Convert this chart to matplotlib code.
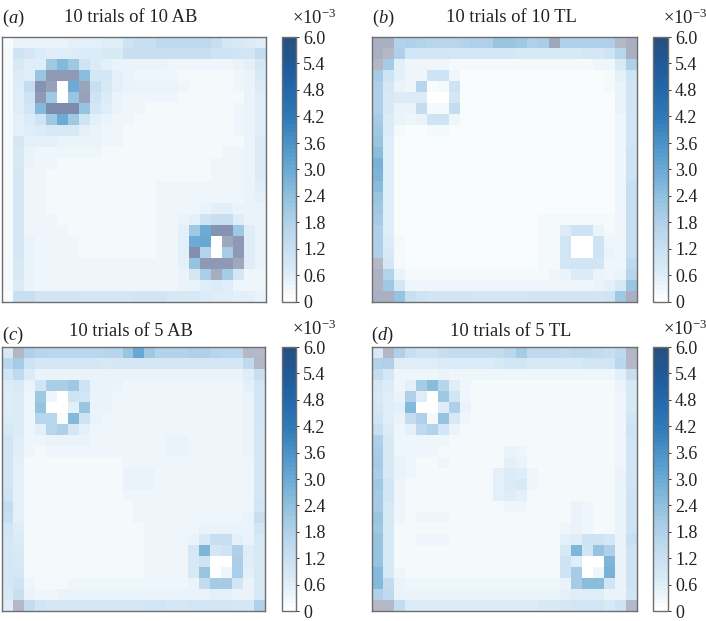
import matplotlib
matplotlib.use("Agg")
import matplotlib.pyplot as plt
from matplotlib.colors import LinearSegmentedColormap, ListedColormap, Normalize
from matplotlib.cm import ScalarMappable
import numpy as np

plt.rcParams["font.family"] = ["Liberation Serif", "DejaVu Serif"]
plt.rcParams["mathtext.fontset"] = "custom"
plt.rcParams["mathtext.rm"] = "Liberation Serif"
plt.rcParams["mathtext.it"] = "Liberation Serif:italic"

# cell values in units of 1e-4, anything above 60 is off the colour scale (greyish cells)
grid_a = [
    [1, 4, 4, 4, 4, 4, 5, 5, 5, 6, 6, 11, 12, 12, 14, 14, 14, 14, 14, 12, 9, 8, 7, 6],
    [2, 11, 9, 7, 6, 6, 6, 7, 7, 8, 8, 12, 12, 12, 12, 12, 12, 12, 12, 11, 11, 10, 10, 13],
    [2, 8, 6, 6, 21, 25, 21, 11, 7, 5, 4, 4, 4, 4, 4, 3, 3, 3, 3, 3, 3, 4, 5, 9],
    [2, 7, 6, 22, 85, 85, 85, 24, 9, 9, 5, 4, 3, 3, 3, 3, 2, 2, 2, 2, 2, 3, 4, 8],
    [2, 6, 13, 90, 80, 0, 29, 78, 12, 8, 5, 4, 4, 4, 4, 4, 3, 2, 2, 2, 2, 3, 4, 7],
    [2, 6, 11, 85, 21, 0, 22, 80, 11, 7, 4, 3, 3, 3, 3, 3, 2, 2, 2, 2, 2, 2, 4, 6],
    [2, 6, 10, 25, 95, 95, 95, 23, 9, 6, 4, 3, 3, 2, 2, 2, 2, 2, 2, 2, 2, 3, 4, 6],
    [2, 5, 7, 11, 21, 29, 21, 11, 5, 4, 3, 3, 2, 2, 2, 2, 2, 2, 2, 2, 2, 3, 4, 6],
    [2, 5, 6, 7, 8, 8, 8, 5, 4, 3, 3, 2, 2, 2, 2, 2, 2, 2, 2, 2, 2, 3, 4, 6],
    [2, 9, 5, 5, 5, 4, 4, 4, 4, 3, 3, 2, 2, 2, 2, 2, 2, 2, 2, 2, 2, 2, 4, 7],
    [2, 8, 4, 3, 3, 3, 3, 3, 3, 2, 2, 2, 2, 2, 2, 2, 2, 2, 2, 2, 3, 3, 4, 7],
    [2, 8, 4, 3, 3, 2, 2, 2, 2, 2, 2, 2, 2, 2, 2, 2, 2, 2, 2, 3, 3, 3, 4, 7],
    [2, 9, 3, 3, 2, 2, 2, 2, 2, 2, 2, 2, 2, 2, 2, 2, 2, 2, 2, 3, 3, 3, 4, 7],
    [2, 9, 3, 3, 2, 2, 2, 2, 2, 2, 2, 2, 2, 2, 3, 3, 3, 3, 3, 3, 3, 3, 4, 6],
    [2, 9, 3, 3, 2, 2, 2, 2, 2, 2, 2, 2, 2, 2, 3, 3, 3, 3, 3, 3, 3, 3, 4, 5],
    [2, 9, 3, 3, 2, 2, 2, 2, 2, 2, 2, 2, 2, 2, 3, 3, 3, 3, 4, 5, 5, 4, 4, 4],
    [2, 9, 3, 3, 3, 2, 2, 2, 2, 2, 2, 2, 2, 2, 3, 3, 4, 5, 11, 12, 12, 6, 4, 4],
    [2, 9, 3, 3, 3, 3, 2, 2, 2, 2, 2, 2, 2, 2, 3, 3, 5, 21, 29, 90, 90, 21, 6, 4],
    [2, 9, 4, 3, 3, 3, 3, 2, 2, 2, 2, 2, 2, 2, 3, 3, 5, 29, 30, 0, 76, 85, 6, 4],
    [2, 9, 4, 3, 3, 3, 3, 2, 2, 2, 2, 2, 2, 2, 3, 3, 5, 92, 17, 0, 20, 85, 6, 4],
    [2, 8, 4, 3, 3, 3, 3, 3, 3, 3, 3, 3, 3, 3, 3, 3, 5, 23, 85, 85, 85, 75, 6, 4],
    [2, 8, 4, 3, 3, 3, 3, 3, 3, 3, 3, 3, 3, 3, 3, 3, 4, 9, 19, 72, 20, 9, 3, 3],
    [2, 7, 4, 3, 3, 3, 3, 3, 3, 3, 3, 3, 3, 3, 3, 3, 4, 4, 6, 7, 6, 3, 3, 3],
    [1, 12, 12, 10, 10, 10, 10, 9, 9, 9, 9, 9, 10, 10, 10, 8, 8, 8, 7, 6, 6, 5, 5, 4],
]

grid_b = [
    [70, 70, 17, 18, 17, 16, 16, 16, 17, 18, 18, 22, 22, 21, 18, 19, 76, 18, 18, 18, 18, 18, 64, 70],
    [70, 65, 18, 10, 10, 10, 10, 9, 9, 9, 9, 9, 9, 8, 8, 8, 8, 8, 8, 9, 9, 11, 16, 70],
    [65, 20, 5, 3, 3, 3, 3, 2, 2, 2, 2, 2, 2, 2, 2, 2, 2, 2, 2, 2, 3, 3, 8, 18],
    [20, 11, 5, 3, 3, 11, 11, 3, 1, 1, 1, 1, 1, 1, 1, 1, 1, 1, 1, 1, 1, 2, 5, 11],
    [18, 9, 4, 3, 16, 1, 2, 11, 1, 1, 1, 1, 1, 1, 1, 1, 1, 1, 1, 1, 1, 2, 4, 10],
    [18, 8, 7, 7, 7, 0, 0, 9, 1, 1, 1, 1, 1, 1, 1, 1, 1, 1, 1, 1, 1, 1, 4, 10],
    [18, 8, 4, 4, 13, 2, 2, 13, 1, 1, 1, 1, 1, 1, 1, 1, 1, 1, 1, 1, 1, 1, 4, 10],
    [20, 7, 4, 3, 4, 11, 11, 3, 1, 1, 1, 1, 1, 1, 1, 1, 1, 1, 1, 1, 1, 1, 3, 10],
    [21, 7, 2, 1, 1, 2, 2, 1, 1, 1, 1, 1, 1, 1, 1, 1, 1, 1, 1, 1, 1, 1, 3, 10],
    [22, 6, 1, 1, 1, 1, 1, 1, 1, 1, 1, 1, 1, 1, 1, 1, 1, 1, 1, 1, 1, 1, 3, 10],
    [24, 6, 1, 1, 1, 1, 1, 1, 1, 1, 1, 1, 1, 1, 1, 1, 1, 1, 1, 1, 1, 1, 3, 11],
    [27, 6, 1, 1, 1, 1, 1, 1, 1, 1, 1, 1, 1, 1, 1, 1, 1, 1, 1, 1, 1, 1, 3, 11],
    [26, 6, 1, 1, 1, 1, 1, 1, 1, 1, 1, 1, 1, 1, 1, 1, 1, 1, 1, 1, 1, 1, 3, 11],
    [24, 6, 1, 1, 1, 1, 1, 1, 1, 1, 1, 1, 1, 1, 1, 1, 1, 1, 1, 1, 1, 1, 3, 12],
    [22, 6, 1, 1, 1, 1, 1, 1, 1, 1, 1, 1, 1, 1, 1, 1, 1, 1, 1, 1, 1, 1, 3, 12],
    [21, 6, 1, 1, 1, 1, 1, 1, 1, 1, 1, 1, 1, 1, 1, 1, 1, 1, 1, 1, 1, 1, 3, 12],
    [20, 6, 1, 1, 1, 1, 1, 1, 1, 1, 1, 1, 1, 1, 1, 2, 2, 2, 2, 2, 2, 2, 3, 12],
    [18, 6, 1, 1, 1, 1, 1, 1, 1, 1, 1, 1, 1, 1, 1, 2, 2, 7, 11, 11, 4, 2, 3, 12],
    [18, 7, 2, 1, 1, 1, 1, 1, 1, 1, 1, 1, 1, 1, 1, 2, 2, 10, 0, 0, 11, 3, 3, 12],
    [18, 8, 2, 1, 1, 1, 1, 1, 1, 1, 1, 1, 1, 1, 1, 2, 2, 10, 0, 0, 11, 4, 3, 12],
    [64, 9, 2, 1, 1, 1, 1, 1, 1, 1, 1, 1, 1, 1, 1, 2, 2, 10, 10, 10, 10, 3, 3, 14],
    [68, 17, 4, 2, 2, 2, 2, 2, 2, 2, 2, 2, 2, 2, 2, 2, 3, 4, 7, 7, 4, 3, 4, 16],
    [68, 21, 9, 3, 3, 3, 3, 3, 3, 3, 3, 3, 3, 3, 3, 3, 3, 3, 3, 3, 4, 5, 8, 22],
    [70, 70, 23, 12, 11, 10, 10, 10, 10, 9, 9, 9, 9, 9, 10, 10, 10, 10, 10, 10, 10, 11, 21, 70],
]

grid_c = [
    [8, 66, 18, 16, 15, 15, 15, 15, 15, 16, 16, 22, 30, 21, 17, 17, 17, 18, 18, 16, 15, 15, 64, 64],
    [15, 20, 11, 9, 9, 9, 9, 9, 9, 8, 9, 9, 9, 9, 9, 9, 9, 9, 9, 9, 9, 9, 14, 66],
    [10, 14, 7, 4, 4, 4, 4, 4, 4, 4, 4, 4, 4, 4, 4, 4, 4, 4, 4, 4, 4, 4, 6, 12],
    [7, 8, 4, 10, 19, 19, 21, 11, 4, 4, 4, 3, 3, 3, 3, 3, 3, 3, 3, 3, 3, 3, 5, 10],
    [6, 7, 3, 21, 3, 0, 11, 10, 4, 4, 3, 3, 3, 3, 3, 3, 3, 3, 3, 3, 3, 3, 4, 10],
    [6, 7, 3, 23, 0, 0, 5, 22, 4, 4, 3, 3, 3, 3, 3, 3, 3, 3, 3, 3, 3, 3, 4, 10],
    [7, 7, 3, 16, 16, 1, 25, 11, 4, 3, 3, 3, 3, 3, 3, 3, 3, 3, 3, 3, 3, 3, 4, 10],
    [8, 7, 3, 5, 16, 18, 9, 5, 3, 3, 3, 3, 3, 3, 3, 3, 3, 3, 3, 3, 3, 3, 4, 9],
    [10, 6, 3, 3, 4, 4, 4, 4, 3, 3, 3, 3, 3, 3, 3, 4, 4, 3, 3, 3, 3, 3, 4, 9],
    [10, 6, 3, 2, 3, 3, 3, 3, 3, 3, 3, 3, 3, 3, 3, 4, 4, 3, 3, 3, 3, 3, 4, 9],
    [10, 5, 2, 2, 2, 2, 2, 2, 2, 2, 2, 3, 3, 3, 3, 3, 3, 3, 3, 3, 3, 3, 3, 9],
    [10, 5, 2, 2, 2, 2, 2, 2, 2, 2, 2, 4, 4, 4, 3, 3, 3, 3, 3, 3, 3, 3, 3, 9],
    [10, 5, 2, 2, 2, 2, 2, 2, 2, 2, 2, 4, 4, 4, 3, 3, 3, 3, 3, 3, 3, 3, 3, 9],
    [11, 5, 2, 2, 2, 2, 2, 2, 2, 2, 2, 3, 3, 3, 3, 3, 3, 3, 3, 3, 3, 3, 3, 9],
    [13, 5, 2, 2, 2, 2, 2, 2, 2, 2, 2, 2, 3, 3, 3, 3, 3, 3, 3, 3, 3, 3, 3, 10],
    [12, 5, 2, 2, 2, 2, 2, 2, 2, 2, 2, 2, 3, 3, 3, 3, 3, 3, 3, 3, 3, 3, 4, 12],
    [10, 6, 2, 2, 2, 2, 2, 2, 2, 2, 2, 2, 2, 3, 3, 3, 3, 3, 4, 4, 4, 4, 4, 10],
    [9, 7, 2, 2, 2, 2, 2, 2, 2, 2, 2, 2, 2, 3, 3, 3, 3, 4, 8, 12, 12, 5, 4, 8],
    [9, 8, 2, 2, 2, 2, 2, 2, 2, 2, 2, 2, 2, 3, 3, 3, 3, 9, 26, 9, 11, 18, 6, 8],
    [9, 8, 2, 2, 2, 2, 2, 2, 2, 2, 2, 2, 2, 3, 3, 3, 3, 8, 11, 0, 0, 19, 6, 8],
    [9, 9, 2, 2, 2, 2, 2, 2, 2, 2, 2, 2, 2, 3, 3, 3, 3, 8, 22, 0, 3, 19, 5, 8],
    [9, 11, 3, 2, 2, 2, 3, 3, 3, 3, 3, 3, 3, 3, 3, 3, 3, 4, 13, 20, 20, 10, 4, 8],
    [8, 12, 4, 3, 3, 4, 4, 4, 4, 4, 4, 4, 4, 4, 4, 4, 4, 4, 4, 5, 5, 4, 4, 8],
    [6, 64, 13, 10, 9, 9, 9, 9, 9, 9, 9, 9, 9, 10, 10, 9, 9, 10, 10, 10, 10, 9, 9, 18],
]

grid_d = [
    [8, 66, 18, 12, 11, 11, 12, 13, 13, 13, 13, 13, 15, 20, 14, 14, 14, 13, 14, 14, 13, 12, 14, 66],
    [17, 18, 6, 6, 6, 6, 7, 7, 7, 7, 7, 8, 10, 10, 8, 8, 8, 8, 8, 10, 10, 10, 15, 64],
    [13, 9, 3, 3, 3, 3, 4, 3, 3, 3, 3, 3, 3, 3, 3, 3, 3, 3, 3, 3, 3, 3, 5, 12],
    [9, 7, 3, 5, 20, 24, 16, 6, 3, 2, 2, 2, 2, 2, 2, 2, 2, 2, 2, 2, 2, 2, 4, 8],
    [8, 6, 4, 18, 6, 0, 21, 10, 3, 2, 2, 2, 2, 2, 2, 2, 2, 2, 2, 2, 2, 2, 3, 8],
    [9, 6, 5, 25, 0, 0, 6, 18, 4, 2, 2, 2, 2, 2, 2, 2, 2, 2, 2, 2, 2, 2, 3, 8],
    [10, 6, 4, 13, 18, 2, 23, 8, 3, 2, 2, 2, 2, 2, 2, 2, 2, 2, 2, 2, 2, 2, 3, 10],
    [12, 7, 3, 5, 14, 17, 10, 4, 2, 2, 2, 2, 2, 2, 2, 2, 2, 2, 2, 2, 2, 2, 3, 11],
    [18, 8, 3, 3, 3, 3, 3, 2, 2, 2, 2, 2, 2, 2, 2, 2, 2, 2, 2, 2, 2, 2, 3, 10],
    [19, 8, 3, 3, 3, 3, 2, 2, 2, 2, 2, 2, 4, 3, 2, 2, 2, 2, 2, 2, 2, 2, 3, 10],
    [20, 8, 4, 3, 2, 2, 3, 2, 2, 2, 2, 2, 5, 4, 2, 2, 2, 2, 2, 2, 2, 2, 3, 10],
    [19, 8, 4, 3, 2, 2, 2, 2, 2, 2, 2, 5, 7, 6, 3, 2, 2, 2, 2, 2, 2, 2, 4, 10],
    [21, 10, 3, 2, 2, 2, 2, 2, 2, 2, 2, 5, 7, 8, 3, 2, 2, 2, 2, 2, 2, 2, 4, 10],
    [20, 10, 3, 2, 2, 2, 2, 2, 2, 2, 2, 5, 6, 5, 2, 2, 2, 2, 2, 2, 2, 2, 4, 11],
    [20, 8, 3, 2, 2, 2, 2, 2, 2, 2, 2, 2, 3, 3, 2, 2, 2, 2, 4, 3, 2, 2, 4, 11],
    [22, 8, 3, 2, 3, 3, 3, 2, 2, 2, 2, 2, 2, 2, 2, 2, 2, 2, 4, 3, 2, 2, 4, 11],
    [21, 8, 2, 2, 2, 2, 2, 2, 2, 2, 2, 2, 2, 2, 2, 2, 2, 3, 4, 3, 2, 2, 4, 11],
    [23, 8, 2, 2, 3, 3, 3, 2, 2, 2, 2, 2, 2, 2, 2, 2, 2, 5, 6, 11, 11, 9, 4, 12],
    [23, 8, 2, 2, 2, 2, 2, 2, 2, 2, 2, 2, 2, 2, 2, 2, 2, 8, 26, 10, 23, 18, 4, 11],
    [23, 8, 2, 2, 2, 2, 2, 2, 2, 2, 2, 2, 2, 2, 2, 2, 2, 11, 6, 0, 0, 26, 4, 11],
    [25, 8, 3, 2, 2, 2, 2, 2, 2, 2, 2, 2, 2, 2, 2, 2, 2, 11, 20, 0, 3, 27, 4, 11],
    [25, 13, 4, 3, 3, 3, 3, 3, 3, 3, 3, 3, 3, 3, 3, 3, 3, 4, 20, 24, 24, 10, 4, 11],
    [18, 14, 4, 4, 4, 4, 4, 4, 4, 4, 4, 4, 4, 4, 4, 4, 4, 5, 6, 6, 6, 4, 4, 10],
    [64, 64, 13, 7, 7, 7, 7, 7, 7, 7, 7, 7, 7, 7, 7, 8, 8, 9, 10, 10, 10, 8, 11, 64],
]

panel_letters = ["a", "b", "c", "d"]
panel_titles = ["10 trials of 10 AB", "10 trials of 10 TL", "10 trials of 5 AB", "10 trials of 5 TL"]
panel_grids = [grid_a, grid_b, grid_c, grid_d]
cbar_ticks = [0, 0.6, 1.2, 1.8, 2.4, 3.0, 3.6, 4.2, 4.8, 5.4, 6.0]
cbar_labels = ["0", "0.6", "1.2", "1.8", "2.4", "3.0", "3.6", "4.2", "4.8", "5.4", "6.0"]
scale_colours = ["#ffffff", "#deedf8", "#c9e0f2", "#b0d1e9", "#8fc0de", "#6aaad6",
                 "#4a93c9", "#2f7ab8", "#2269ad", "#1f5a9a", "#27507f"]

W, H = 706, 621
fig = plt.figure(figsize=(W / 100, H / 100), dpi=100)


def px_box(x0, y0, x1, y1):
    return [x0 / W, 1 - y1 / H, (x1 - x0) / W, (y1 - y0) / H]


# the scale, then the grey-blue shades for cells above it
scale_cmap = LinearSegmentedColormap.from_list("scale", scale_colours, N=64)
blues = scale_cmap(np.linspace(0, 1, 60))
greys = LinearSegmentedColormap.from_list("over", ["#bdbfcb", "#7685ab"])(np.linspace(0, 1, 40))
heat_cmap = ListedColormap(np.vstack([blues, greys]))

boxes = [(2, 37, 266, 302), (372, 37, 637, 302), (2, 347, 265, 611), (372, 347, 637, 611)]
bar_x = [(282, 296), (653, 668), (282, 296), (653, 668)]
letter_x = [2, 372, 2, 371]
title_x = [131, 511, 131, 511]
letter_y = [18, 18, 335, 335]
title_y = [17, 17, 331, 331]
scale_y = [18, 18, 329, 329]

for i in range(4):
    x0, y0, x1, y1 = boxes[i]
    ax = fig.add_axes(px_box(x0, y0, x1, y1))
    values = np.array(panel_grids[i]) * 0.1
    ax.imshow(values, cmap=heat_cmap, vmin=0, vmax=10, interpolation="nearest", aspect="auto")
    ax.set_xticks([])
    ax.set_yticks([])
    for spine in ax.spines.values():
        spine.set_color("#6e6e6e")
        spine.set_linewidth(1)

    cax = fig.add_axes(px_box(bar_x[i][0], y0, bar_x[i][1], y1))
    sm = ScalarMappable(norm=Normalize(0, 6), cmap=scale_cmap)
    cb = fig.colorbar(sm, cax=cax, ticks=cbar_ticks)
    cb.ax.set_yticklabels(cbar_labels)
    cb.ax.tick_params(length=2, width=0.7, pad=3, labelsize=13, color="#333333", labelcolor="#222222")
    cb.outline.set_edgecolor("#6e6e6e")
    cb.outline.set_linewidth(1)

    fig.text(letter_x[i] / W, 1 - letter_y[i] / H, "($\\mathit{%s}$)" % panel_letters[i],
             fontsize=13.3, va="center", ha="left", color="#222222")
    fig.text(title_x[i] / W, 1 - title_y[i] / H, panel_titles[i], fontsize=13.3,
             va="center", ha="center", color="#222222")
    fig.text((bar_x[i][0] + 10) / W, 1 - scale_y[i] / H, "×10$^{-3}$", fontsize=13.3,
             va="center", ha="left", color="#222222")

fig.savefig("out.png", dpi=100)
